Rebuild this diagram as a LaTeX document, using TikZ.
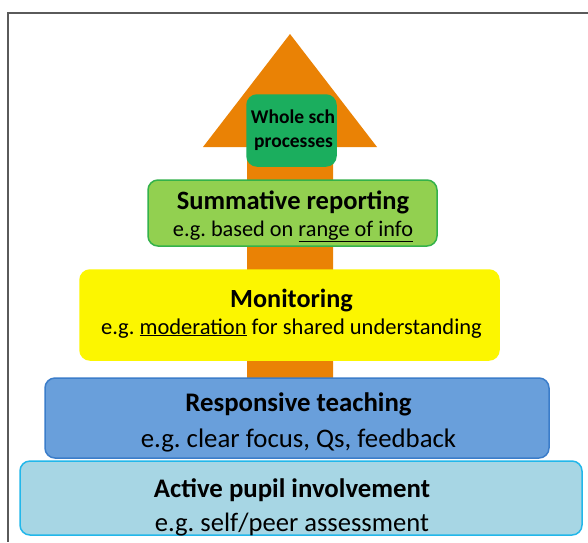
\documentclass[tikz,border=0pt]{standalone}
\usepackage{fontspec}
\setmainfont{Carlito}
\frenchspacing
\definecolor{framegray}{HTML}{5A5A5A}
\definecolor{arroworange}{HTML}{EA8205}
\definecolor{wsgreen}{HTML}{1BAE5E}
\definecolor{sumfill}{HTML}{92D050}
\definecolor{sumdraw}{HTML}{34B24A}
\definecolor{monfill}{HTML}{FCF600}
\definecolor{resfill}{HTML}{699FDB}
\definecolor{resdraw}{HTML}{3B7DCA}
\definecolor{actfill}{HTML}{A7D6E4}
\definecolor{actdraw}{HTML}{22B7EA}
\begin{document}
\begin{tikzpicture}[x=1pt,y=-1pt,
  lvl/.style={rounded corners=10pt, line width=1.5pt, inner sep=0pt},
  txt/.style={anchor=base, inner sep=0pt, text=black},
]
\useasboundingbox (0,0) rectangle (588,542);
\fill[white] (0,0) rectangle (588,542);
\draw[framegray, line width=1.5pt] (588,13) -- (8,13) -- (8,542);
\fill[arroworange] (247,380) -- (247,147) -- (203,147) -- (290,34) -- (377,147) -- (333,147) -- (333,380) -- cycle;
% whole school
\node[lvl, fill=wsgreen, draw=wsgreen, minimum width=89pt, minimum height=71pt] (whole) at (291.5,130.5) {};
\node[txt, font=\bfseries\fontsize{19.5}{24}\selectfont] (whole1) at (293,123) {Whole sch};
\node[txt, font=\bfseries\fontsize{19.5}{24}\selectfont] (whole2) at (293.5,147) {processes};
% summative
\node[lvl, fill=sumfill, draw=sumdraw, minimum width=289pt, minimum height=66pt] (sum) at (292.5,213) {};
\node[txt, font=\bfseries\fontsize{26.5}{29}\selectfont] (sum1) at (293,209) {Summative reporting};
\node[txt, font=\fontsize{22.3}{29}\selectfont] (sum2) at (293,236) {e.g. based on \underline{range of info}};
% monitoring
\node[lvl, fill=monfill, draw=monfill, minimum width=419pt, minimum height=90pt] (mon) at (289.5,315) {};
\node[txt, font=\bfseries\fontsize{26.2}{29}\selectfont] (mon1) at (291.5,307) {Monitoring};
\node[txt, font=\fontsize{22.5}{29}\selectfont] (mon2) at (291.5,334) {e.g. \underline{moderation} for shared understanding};
% responsive
\node[lvl, fill=resfill, draw=resdraw, minimum width=504pt, minimum height=80pt] (res) at (297,418) {};
\node[txt, font=\bfseries\fontsize{26.8}{31}\selectfont] (res1) at (298.5,411) {Responsive teaching};
\node[txt, font=\fontsize{26.8}{31}\selectfont] (res2) at (298.5,447) {e.g. clear focus, Qs, feedback};
% active
\node[lvl, fill=actfill, draw=actdraw, minimum width=562pt, minimum height=74pt] (act) at (301,498) {};
\node[txt, font=\bfseries\fontsize{26.8}{30}\selectfont] (act1) at (292,497) {Active pupil involvement};
\node[txt, font=\fontsize{26.6}{30}\selectfont] (act2) at (292,531) {e.g. self/peer assessment};
\end{tikzpicture}
\end{document}
